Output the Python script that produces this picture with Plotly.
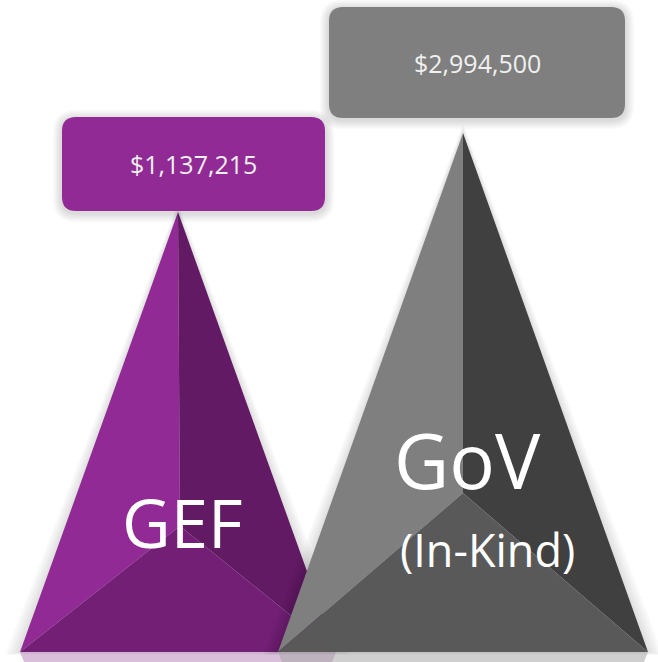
import plotly.graph_objects as go

# ---- data ----
categories = ["GEF", "GoV"]
sublabels = ["", "(In-Kind)"]
amounts = [1137215, 2994500]
value_labels = ["$" + f"{v:,}" for v in amounts]

# ---- styles ----
face_colors = {
    "GEF": ("#922A95", "#611A63", "#721F75"),   # left, right, bottom faces
    "GoV": ("#7F7F7F", "#404040", "#595959"),
}
box_colors = {"GEF": "#922A95", "GoV": "#7F7F7F"}
reflect_colors = {"GEF": "#B98ABB", "GoV": "#A8A8A8"}

# ---- layout geometry (drawing coordinates, y grows downward) ----
geom = {
    "GEF": dict(apex=(178, 212), inner=(180, 526), left=(20, 652), right=(336, 652),
                box=(62, 117, 325, 211), label=(182, 522), label_size=67),
    "GoV": dict(apex=(463, 133), inner=(463, 493), left=(278, 652), right=(648, 652),
                box=(329, 7, 625, 118), label=(467, 459), label_size=76,
                sub=(487, 549), sub_size=45),
}

W, H = 658, 662
fig = go.Figure()
shapes = []
annotations = []


def rounded_path(x0, y0, x1, y1, r):
    return (f"M{x0+r},{y0} L{x1-r},{y0} Q{x1},{y0} {x1},{y0+r} "
            f"L{x1},{y1-r} Q{x1},{y1} {x1-r},{y1} L{x0+r},{y1} "
            f"Q{x0},{y1} {x0},{y1-r} L{x0},{y0+r} Q{x0},{y0} {x0+r},{y0} Z")


def poly(pts, color, opacity=1.0):
    xs = [p[0] for p in pts] + [pts[0][0]]
    ys = [p[1] for p in pts] + [pts[0][1]]
    fig.add_trace(go.Scatter(x=xs, y=ys, mode="lines", fill="toself",
                             fillcolor=color, opacity=opacity,
                             line=dict(width=0, color=color),
                             hoverinfo="skip", showlegend=False))


for i, cat in enumerate(categories):
    g = geom[cat]
    ax, ay = g["apex"]
    lx, ly = g["left"]
    rx, ry = g["right"]
    # soft shadow around pyramid
    for k in range(1, 7):
        e = k * 1.6
        poly([(ax, ay - e), (lx - e * 1.6, ly + e * 0.3), (rx + e * 1.6, ry + e * 0.3)],
             "rgba(0,0,0,1)", 0.018)
    # reflection below the base
    poly([(lx, ly), (rx, ry), (rx - 4, ry + 10), (lx + 4, ly + 10)], reflect_colors[cat], 0.55)
    cl, cr, cb = face_colors[cat]
    poly([g["apex"], g["inner"], g["left"]], cl)
    poly([g["apex"], g["inner"], g["right"]], cr)
    poly([g["left"], g["inner"], g["right"]], cb)

    # value box with shadow
    x0, y0, x1, y1 = g["box"]
    for k in range(1, 7):
        e = k * 1.5
        shapes.append(dict(type="path", xref="x", yref="y", layer="above",
                           path=rounded_path(x0 - e, y0 - e + 2, x1 + e, y1 + e + 2, 14 + e),
                           fillcolor="rgba(0,0,0,0.025)", line=dict(width=0)))
    shapes.append(dict(type="path", xref="x", yref="y", layer="above",
                       path=rounded_path(x0, y0, x1, y1, 14),
                       fillcolor=box_colors[cat], line=dict(width=0)))
    annotations.append(dict(x=(x0 + x1) / 2, y=(y0 + y1) / 2, xref="x", yref="y",
                            text=value_labels[i], showarrow=False,
                            font=dict(family="Open Sans", size=25, color="#F0F0F0")))
    lxx, lyy = g["label"]
    annotations.append(dict(x=lxx, y=lyy, xref="x", yref="y", text=cat, showarrow=False,
                            font=dict(family="Open Sans", size=g["label_size"], color="white")))
    if sublabels[i]:
        sx, sy = g["sub"]
        annotations.append(dict(x=sx, y=sy, xref="x", yref="y", text=sublabels[i],
                                showarrow=False,
                                font=dict(family="Open Sans", size=g["sub_size"], color="white")))

fig.update_layout(
    width=W, height=H, margin=dict(l=0, r=0, t=0, b=0),
    paper_bgcolor="white", plot_bgcolor="white",
    xaxis=dict(range=[0, W], visible=False, fixedrange=True),
    yaxis=dict(range=[H, 0], visible=False, fixedrange=True),
    shapes=shapes, annotations=annotations, showlegend=False,
)
fig.write_html("out.html")
